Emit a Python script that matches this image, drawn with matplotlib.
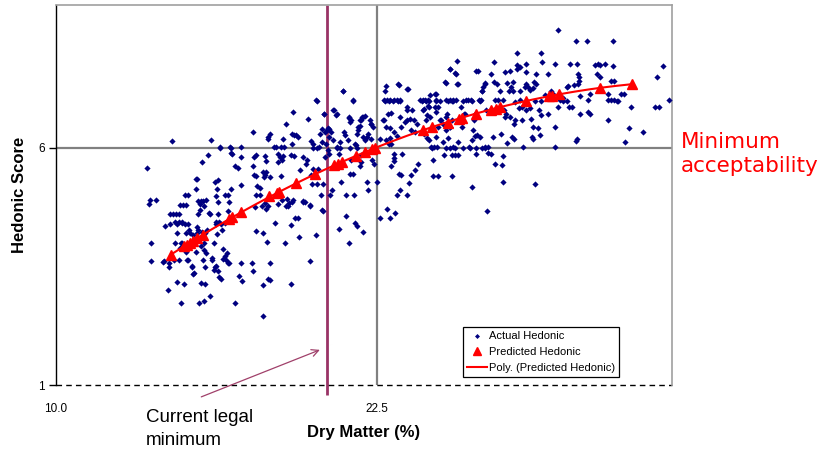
import numpy as np
import matplotlib
matplotlib.use("Agg")
import matplotlib.pyplot as plt

plt.rcParams['font.family'] = ['Liberation Sans', 'DejaVu Sans']

# ---------------- data ----------------
# Actual hedonic scores vs dry matter (%), region by region
dm_a = [13.56, 13.62, 13.68, 13.90, 13.72, 13.72, 14.19, 14.25, 14.37, 14.39,
        14.51, 14.43, 14.55, 14.67, 14.80, 14.63, 14.80, 14.92, 14.88, 14.70,
        14.98, 14.84, 14.96, 15.02, 15.14, 15.06, 15.18, 14.92, 14.84, 15.08,
        15.14, 15.30, 15.39, 15.45, 15.51, 15.55, 15.63, 15.71, 15.57, 15.75,
        15.63, 15.79, 15.69, 15.91, 16.00, 16.04, 15.61, 15.75, 15.81, 15.89,
        15.65, 15.75, 15.96, 16.08, 16.22, 16.16, 16.20, 16.32, 16.24, 16.22,
        16.36, 16.36, 16.40, 16.52, 16.57, 16.61, 16.69, 16.71, 16.75, 16.79,
        16.83, 16.97, 16.99, 17.09, 17.13, 17.24, 17.22, 17.22, 17.20, 17.22,
        17.66, 17.70, 17.66, 17.78, 17.80, 18.05, 17.62, 17.66, 17.72, 17.85,
        17.93, 18.05, 18.27, 18.05, 18.09, 18.19, 18.15, 18.25, 18.23, 18.27,
        18.33, 18.35, 18.50, 18.58, 18.54, 18.64, 18.72, 18.80, 18.78, 18.90,
        18.86, 18.92, 18.98, 19.00, 19.07, 19.17, 19.17, 19.29, 19.19, 19.35,
        19.25, 19.31, 19.41, 19.47, 19.51, 19.61, 19.63, 19.74, 19.82, 19.90,
        19.92, 20.02, 19.94, 20.12, 20.14, 20.18, 20.24, 20.30, 20.37, 20.45,
        20.55, 20.59, 20.63, 20.51, 20.59, 20.63, 20.79, 20.89, 20.96, 21.04,
        21.04, 21.10, 21.18, 21.24, 21.30, 21.40, 21.44, 21.40, 21.46, 21.57,
        21.57, 21.63, 21.73, 21.67, 21.73, 21.77, 21.85, 21.93, 21.89, 21.97,
        22.05, 22.11, 22.13, 22.17, 22.26, 22.34, 22.30, 22.38, 22.50, 22.62,
        22.91, 23.03, 23.19, 22.78, 22.83, 22.87, 22.91, 23.03, 23.15, 23.27,
        23.39, 22.74, 22.87, 22.95, 22.97, 23.03, 23.31, 23.35, 23.43, 23.48,
        23.66, 23.68, 23.76, 23.88, 23.96, 24.00, 24.09, 24.19, 24.29, 24.39,
        24.49, 24.35, 24.45, 24.53, 24.33, 24.45, 24.53, 24.70, 24.78, 24.82,
        24.90, 24.90, 25.00, 24.61, 24.74, 24.86, 24.70, 24.90, 25.14, 25.20,
        25.35, 25.47, 25.59, 25.22, 25.35, 25.26, 25.35, 25.43, 25.47, 25.55,
        25.67, 25.63, 25.55, 25.67, 25.79, 25.91, 25.81, 25.96, 26.04, 26.16,
        26.08, 26.20, 26.20, 26.28, 26.38, 26.48, 26.57, 26.40, 26.52, 26.61,
        26.73, 26.73, 26.85, 26.93, 26.81, 26.93, 27.05, 27.05, 27.17, 27.09,
        27.09, 27.24, 27.34, 27.38, 27.40, 27.46, 27.54, 27.50, 27.58, 27.66,
        27.74, 27.70, 27.83, 27.78, 27.97, 27.95, 28.07, 28.07, 28.15, 28.19,
        28.31, 28.39, 28.48, 28.50, 28.60, 28.56, 28.64, 28.72, 28.68, 28.80,
        28.88, 28.90, 29.17, 29.27, 29.37, 29.17, 29.45, 29.45, 29.45, 29.57,
        29.57, 29.65, 29.74, 29.98, 30.10, 30.02, 30.18, 30.26, 30.30, 30.35,
        30.39, 30.26, 30.43, 30.67, 30.71, 30.79, 30.71, 30.79, 31.00, 31.12,
        31.20, 31.08, 31.20, 31.40, 31.50, 31.61, 31.73, 31.50, 31.61, 31.73,
        31.69, 31.71, 32.01, 32.13, 32.17, 32.34, 32.42, 32.87, 33.35, 33.48,
        33.43, 33.64, 33.90]
hed_a = [5.57, 4.81, 4.90, 4.90, 4.00, 3.61, 3.61, 4.34, 2.99, 3.57,
         6.14, 4.60, 4.60, 4.60, 4.60, 4.43, 4.43, 4.43, 2.73, 3.16,
         3.13, 4.80, 4.80, 5.00, 5.00, 4.20, 4.27, 4.00, 3.88, 3.80,
         3.64, 3.50, 3.36, 5.33, 5.33, 4.87, 4.87, 4.87, 2.73, 2.76,
         3.15, 3.13, 5.70, 5.85, 2.88, 6.15, 4.69, 4.76, 4.20, 4.27,
         3.92, 3.85, 4.62, 3.67, 3.50, 3.43, 5.27, 5.31, 4.97, 4.44,
         4.44, 3.27, 6.01, 3.86, 3.71, 3.64, 3.57, 5.01, 4.85, 6.01,
         5.89, 2.73, 5.62, 5.57, 3.30, 3.18, 6.01, 5.80, 5.21, 3.57,
         6.32, 5.80, 5.62, 5.84, 4.25, 4.21, 3.57, 3.41, 5.42, 5.20,
         5.01, 3.11, 3.23, 2.46, 5.38, 5.48, 4.83, 4.76, 4.01, 6.22,
         6.28, 3.57, 6.01, 6.01, 4.41, 5.86, 5.80, 5.73, 6.01, 6.01,
         6.17, 4.00, 6.49, 4.91, 4.83, 3.13, 5.84, 5.83, 6.29, 6.26,
         6.74, 4.51, 4.51, 4.12, 5.52, 4.87, 5.80, 5.66, 6.59, 3.61,
         6.13, 6.08, 5.42, 6.99, 4.15, 5.24, 6.01, 6.29, 4.69, 6.71,
         6.36, 6.41, 6.22, 6.08, 5.94, 5.87, 6.80, 6.68, 6.01, 5.87,
         4.28, 5.28, 7.20, 6.33, 4.56, 6.63, 6.54, 4.00, 5.45, 5.45,
         6.99, 4.41, 4.34, 6.05, 5.98, 6.43, 6.57, 6.64, 5.85, 4.22,
         6.15, 6.22, 5.28, 5.10, 6.50, 6.43, 5.73, 5.66, 5.28, 4.51,
         4.70, 4.51, 4.62, 6.99, 7.20, 7.29, 6.99, 6.99, 6.99, 6.99,
         6.99, 6.57, 6.43, 6.70, 6.08, 6.19, 7.34, 5.45, 5.42, 5.87,
         7.24, 6.57, 5.26, 6.78, 6.57, 5.52, 5.65, 6.99, 6.99, 6.99,
         6.99, 6.82, 6.68, 6.85, 6.29, 6.19, 6.15, 5.73, 7.13, 6.99,
         6.85, 6.43, 6.57, 6.01, 6.01, 6.01, 5.40, 5.40, 7.37, 6.99,
         6.99, 6.99, 6.99, 6.71, 6.43, 6.20, 7.66, 5.40, 6.01, 5.84,
         5.84, 7.83, 7.57, 7.34, 6.85, 6.71, 6.43, 6.99, 6.99, 6.99,
         6.01, 6.15, 5.17, 6.57, 7.62, 6.99, 6.99, 6.26, 6.22, 7.20,
         7.34, 6.01, 6.01, 5.87, 4.67, 7.55, 7.80, 7.37, 7.34, 5.66,
         6.99, 6.99, 6.29, 5.63, 5.28, 6.78, 6.71, 7.59, 7.36, 7.20,
         7.27, 6.64, 6.50, 6.22, 7.99, 7.73, 7.69, 6.99, 6.85, 6.01,
         7.76, 7.27, 7.22, 6.61, 6.43, 6.22, 7.38, 7.34, 5.24, 6.78,
         6.68, 7.99, 7.55, 7.20, 7.13, 6.71, 7.75, 6.43, 6.01, 8.48,
         6.85, 6.99, 7.05, 6.85, 6.85, 7.75, 7.31, 8.24, 7.75, 7.55,
         7.41, 6.14, 6.71, 8.24, 6.99, 7.13, 6.75, 6.71, 7.73, 7.76,
         7.73, 7.55, 7.48, 7.76, 6.99, 6.99, 6.99, 6.57, 7.41, 7.41,
         8.24, 7.71, 7.13, 7.13, 6.12, 6.42, 6.85, 6.33, 6.85, 6.85,
         7.48, 7.71, 6.99]

# central upper band
dm_b = [20.18, 21.20, 21.58, 20.84, 20.93, 20.46, 21.42, 21.51, 21.90, 21.97,
        22.03, 21.84, 21.77, 21.71, 22.23, 22.29, 20.38, 20.47, 20.64, 20.70,
        20.35, 20.80, 21.06, 21.25, 21.38, 21.64, 21.97, 22.16, 22.29, 20.02,
        20.15, 20.93, 21.06, 21.45, 22.64, 22.77, 22.81, 22.97, 23.13, 23.31,
        23.40, 23.71, 23.35, 23.66, 23.66, 23.05, 23.40, 23.01, 23.16, 23.27,
        22.86, 23.07, 23.46, 23.59, 23.79, 23.85, 23.98, 24.05, 24.26, 24.41,
        24.54, 24.59, 24.82, 24.30, 24.50, 24.43, 24.56, 24.63, 24.76, 24.82,
        24.95, 25.08, 24.82, 24.80, 24.95, 25.20, 25.34, 25.60, 25.63, 25.28,
        25.41, 25.47, 25.21, 25.28, 25.41, 25.19, 25.34, 25.06, 25.21, 25.34,
        25.54, 25.67, 25.86, 26.19, 25.95, 26.32, 26.51, 26.25, 26.32, 25.86,
        26.12, 26.38, 26.58, 26.71, 26.44, 26.58, 26.64, 26.71]
hed_b = [6.98, 7.18, 6.98, 6.79, 6.71, 6.71, 6.64, 6.57, 6.57, 6.64,
         6.67, 6.46, 6.36, 6.29, 6.57, 6.50, 6.39, 6.32, 6.39, 6.32,
         6.11, 6.15, 6.11, 6.27, 6.15, 6.08, 6.22, 6.29, 6.18, 6.00,
         6.00, 6.00, 6.00, 6.00, 6.18, 6.57, 6.98, 6.98, 6.98, 6.98,
         6.98, 7.23, 7.32, 6.85, 6.78, 6.72, 6.65, 6.41, 6.32, 6.25,
         6.15, 6.08, 6.43, 6.53, 6.60, 6.36, 6.32, 6.50, 6.98, 6.98,
         6.98, 7.11, 7.13, 6.78, 6.88, 6.57, 6.64, 6.00, 6.85, 6.74,
         6.57, 6.50, 6.22, 6.98, 6.98, 7.36, 7.65, 7.55, 7.34, 6.98,
         6.98, 6.98, 6.64, 6.53, 6.57, 6.36, 6.43, 6.11, 6.00, 6.00,
         6.00, 6.11, 6.98, 6.98, 6.71, 6.71, 6.98, 6.36, 6.25, 6.00,
         6.00, 6.00, 6.00, 6.00, 7.62, 7.20, 7.27, 7.35]

# central lower band
dm_c = [23.17, 23.16, 23.16, 23.07, 23.82, 23.40, 23.29, 23.66, 25.11, 25.43,
        26.38, 21.29, 21.62, 20.77, 20.67, 20.31, 20.41, 19.89, 19.96, 20.41,
        20.02, 20.21, 21.84, 21.90, 20.47, 21.51]
hed_c = [5.87, 5.78, 5.71, 5.62, 5.43, 5.11, 4.99, 4.99, 5.85, 5.85,
         5.87, 4.99, 4.99, 5.11, 4.99, 4.99, 4.66, 4.78, 5.24, 5.24,
         5.55, 5.55, 5.62, 5.69, 5.80, 5.73]

# left-centre cloud
dm_d = [19.28, 19.41, 19.20, 18.27, 16.39, 16.81, 16.87, 18.14, 18.20, 18.66,
        18.85, 19.76, 18.07, 18.14, 17.78, 18.33, 18.75, 17.94, 15.44, 16.26,
        16.81, 16.58, 17.81, 18.79, 19.24, 19.18, 15.83, 15.61, 16.30, 19.70,
        19.89, 15.05, 18.01, 18.66, 18.98]
hed_d = [6.27, 6.22, 6.08, 6.18, 6.00, 6.00, 5.87, 5.83, 5.71, 5.69,
         5.83, 5.73, 5.48, 5.43, 5.39, 5.38, 5.39, 5.15, 5.13, 5.13,
         5.13, 4.99, 4.99, 4.89, 4.89, 4.85, 4.89, 4.82, 4.85, 4.85,
         4.76, 4.78, 4.76, 4.82, 4.76]

# lower-left cloud
dm_e = [15.54, 16.00, 16.30, 16.69, 17.75, 18.17, 19.05, 19.63, 14.44, 14.70,
        14.89, 15.02, 15.15, 15.48, 15.54, 15.22, 15.35, 15.48, 15.67, 16.22,
        16.43, 16.58, 16.48, 16.26, 14.70, 14.63, 14.87, 15.77, 16.16, 15.44,
        15.83, 16.65, 19.15, 14.18, 14.40, 14.61, 14.79, 15.09, 15.31, 15.35,
        15.74, 15.80, 16.06, 16.19, 16.30, 16.52, 16.74, 16.43, 18.33]
hed_e = [4.59, 4.59, 4.61, 4.66, 4.75, 4.71, 4.76, 4.85, 4.38, 4.38,
         4.41, 4.39, 4.38, 4.33, 4.26, 4.19, 4.15, 4.20, 4.22, 4.38,
         4.39, 4.41, 4.27, 4.17, 4.20, 3.99, 3.99, 3.99, 3.99, 3.80,
         3.77, 3.77, 4.36, 3.59, 3.49, 3.63, 3.63, 3.63, 3.49, 3.33,
         3.63, 3.49, 3.63, 3.49, 3.40, 3.66, 3.56, 3.24, 3.21]

# upper-right cloud
dm_f = [28.94, 27.68, 27.98, 28.30, 28.72, 30.38, 27.81, 28.33, 29.95, 30.34,
        27.29, 27.81, 28.07, 28.26, 28.59, 29.04, 29.89, 30.41, 31.51, 27.40,
        27.87, 28.04, 28.48, 28.65, 28.88, 29.76, 29.89, 31.84, 31.91, 26.77,
        27.48, 27.87, 28.17, 28.33, 27.03, 28.78, 30.28, 27.42, 26.84, 27.58,
        27.83, 28.59, 28.87]
hed_f = [7.79, 7.62, 7.65, 7.58, 7.55, 7.49, 7.37, 7.34, 7.30, 7.34,
         7.20, 7.18, 7.18, 7.27, 7.25, 7.11, 7.27, 7.09, 7.13, 6.99,
         6.96, 6.83, 6.83, 6.97, 6.97, 6.97, 6.97, 6.97, 6.97, 6.78,
         6.64, 6.57, 6.57, 6.78, 6.23, 6.41, 6.18, 5.82, 5.88, 6.09,
         6.18, 6.18, 6.27]

# Predicted hedonic (triangles)
pred_dm = [14.47, 14.98, 15.10, 15.24, 15.35, 15.51, 15.71, 16.73, 16.87, 17.22,
           18.29, 18.60, 18.70, 19.37, 20.08, 20.83, 21.00, 21.16, 21.69, 22.05,
           22.30, 22.42, 24.29, 24.65, 25.26, 25.71, 25.81, 26.36, 26.93, 27.13,
           27.30, 28.31, 29.21, 29.33, 29.61, 31.20, 32.46]
pred_hed = [3.74, 3.92, 3.95, 4.00, 4.04, 4.09, 4.16, 4.49, 4.53, 4.64,
            4.97, 5.05, 5.07, 5.26, 5.44, 5.63, 5.66, 5.70, 5.82, 5.91,
            5.96, 5.98, 6.36, 6.43, 6.52, 6.61, 6.63, 6.71, 6.80, 6.82,
            6.85, 6.98, 7.08, 7.09, 7.12, 7.26, 7.34]

legal_minimum = 20.57
reference_dm = 22.5
min_acceptability = 6
x_ticks = [10, 22.5]
x_ticklabels = ['10.0', '22.5']
y_ticks = [1, 6]
y_ticklabels = ['1', '6']
legend_labels = ['Actual Hedonic', 'Predicted Hedonic', 'Poly. (Predicted Hedonic)']

actual_dm = dm_a + dm_b + dm_c + dm_d + dm_e + dm_f
actual_hed = hed_a + hed_b + hed_c + hed_d + hed_e + hed_f

# ---------------- figure ----------------
W, H = 820, 450
fig = plt.figure(figsize=(W / 100, H / 100), dpi=100)
ax = fig.add_axes([56 / W, 1 - 385 / H, (672 - 56) / W, (385 - 5) / H])
ax.set_xlim(10, 34)
ax.set_ylim(1, 9)

ax.axhline(min_acceptability, color='#808080', lw=1.6, zorder=1)
ax.axvline(reference_dm, color='#808080', lw=1.6, zorder=1)
ax.plot([legal_minimum, legal_minimum], [0.78, 9], color='#993366', lw=2.0,
        clip_on=False, zorder=2, solid_capstyle='butt')
ax.plot([10, 34], [1, 1], color='black', lw=1.0, ls=(0, (4, 3)),
        clip_on=False, zorder=2)

sc = ax.scatter(actual_dm, actual_hed, marker='D', s=10, color='#000080',
                linewidths=0, zorder=3)
coef = np.polyfit(pred_dm, pred_hed, 2)
xs = np.linspace(min(pred_dm), max(pred_dm), 200)
ln, = ax.plot(xs, np.polyval(coef, xs), color='red', lw=1.5, zorder=4)
tri, = ax.plot(pred_dm, pred_hed, ls='none', marker='^', color='red',
               ms=6.5, mec='red', zorder=5)

for s in ['top', 'right']:
    ax.spines[s].set_color('#a0a0a0')
    ax.spines[s].set_linewidth(1.2)
ax.spines['bottom'].set_visible(False)
ax.spines['left'].set_color('black')
ax.spines['left'].set_linewidth(1.0)

ax.set_xticks(x_ticks)
ax.set_xticklabels(x_ticklabels)
ax.set_yticks(y_ticks)
ax.set_yticklabels(y_ticklabels)
ax.tick_params(axis='x', length=0, pad=13, labelsize=8.5)
ax.tick_params(axis='y', length=5, width=1, pad=3, labelsize=8.5, direction='out')

leg = ax.legend([sc, tri, ln], legend_labels, loc='upper left',
                bbox_to_anchor=(463 / W, 1 - 327 / H), bbox_transform=fig.transFigure,
                frameon=True, fancybox=False, edgecolor='black', framealpha=1,
                fontsize=8, borderaxespad=0, handlelength=1.8, handletextpad=0.2,
                labelspacing=0.55, borderpad=0.35, markerscale=0.8)
leg.get_frame().set_linewidth(0.9)

fig.text(364 / W, 1 - 432 / H, 'Dry Matter (%)', ha='center', va='center',
         fontsize=12, fontweight='bold')
fig.text(20 / W, 1 - 195 / H, 'Hedonic Score', ha='center', va='center',
         rotation=90, fontsize=12, fontweight='bold')

fig.text(681 / W, 1 - 148 / H, 'Minimum', color='red', fontsize=15.5,
         family=['DejaVu Sans'], ha='left', va='baseline')
fig.text(681 / W, 1 - 172 / H, 'acceptability', color='red', fontsize=15.5,
         family=['DejaVu Sans'], ha='left', va='baseline')

fig.text(146 / W, 1 - 422 / H, 'Current legal', fontsize=13.5, ha='left', va='baseline')
fig.text(146 / W, 1 - 445 / H, 'minimum', fontsize=13.5, ha='left', va='baseline')

ax.annotate('', xy=(20.28, 1.74), xytext=(15.66, 0.75),
            arrowprops=dict(arrowstyle='->,head_length=0.5,head_width=0.25',
                            color='#a0406a', lw=0.9, shrinkA=0, shrinkB=0),
            annotation_clip=False)

fig.savefig('out.png', dpi=100)
